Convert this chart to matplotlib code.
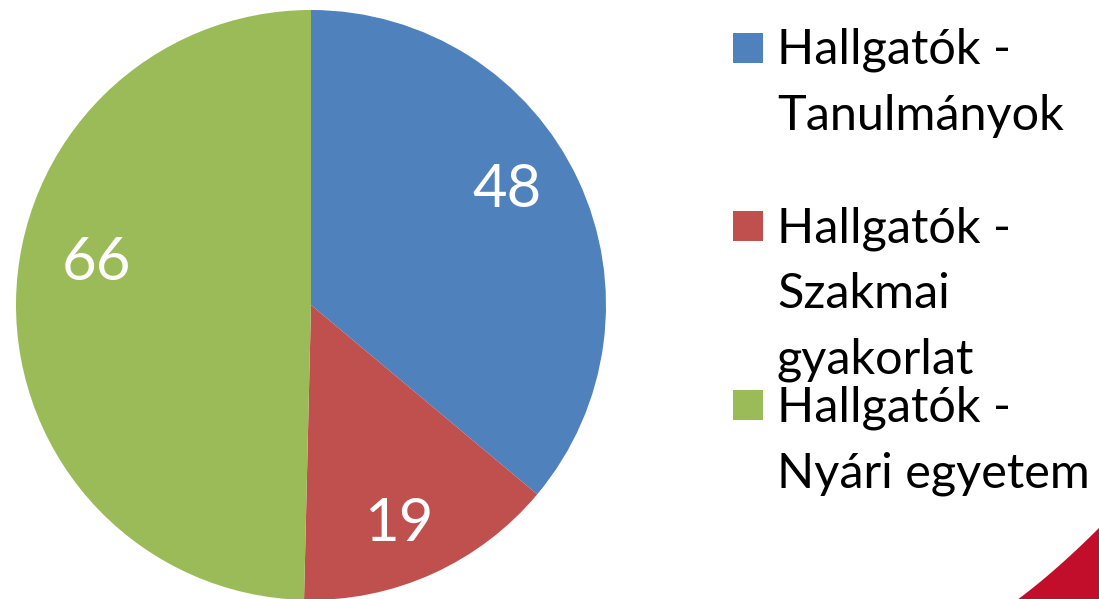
import matplotlib
matplotlib.use("Agg")
import matplotlib.pyplot as plt
from matplotlib.patches import Rectangle, Polygon
import numpy as np

# ---- data ----
categories = ["Hallgatók -\nTanulmányok",
              "Hallgatók -\nSzakmai\ngyakorlat",
              "Hallgatók -\nNyári egyetem"]
values = [48, 19, 66]
colors = ["#4F81BD", "#C0504D", "#9BBB59"]

W, H = 1099, 599
fig = plt.figure(figsize=(W / 100, H / 100), dpi=100)
fig.patch.set_facecolor("white")
plt.rcParams["font.family"] = ["Lato", "DejaVu Sans"]

def fx(x):
    return x / W

def fy(y_top):
    return (H - y_top) / H

# ---- decorative corner (slide background) ----
t = np.linspace(0, 1, 30)
p0, p1, p2 = np.array([1017, 600]), np.array([1055, 572]), np.array([1100, 527])
curve = [((1 - s) ** 2) * p0 + 2 * (1 - s) * s * p1 + (s ** 2) * p2 for s in t]
pts = [(fx(x), fy(y)) for x, y in curve] + [(fx(1100), fy(600))]
fig.patches.append(Polygon(pts, closed=True, transform=fig.transFigure,
                           facecolor="#C20E2A", edgecolor="none", zorder=0))

# ---- pie ----
cx, cy, r = 311, 305, 295
ax = fig.add_axes([fx(cx - r), fy(cy + r), 2 * r / W, 2 * r / H])
wedges, _ = ax.pie(values, colors=colors, startangle=90, counterclock=False,
                   radius=1.0, wedgeprops=dict(linewidth=0))
ax.set_xlim(-1, 1)
ax.set_ylim(-1, 1)
ax.set_aspect("equal", adjustable="box")
ax.axis("off")

label_dist = [0.77, 0.80, 0.74]
label_shift = [5.5, -2.5, -10.5]  # degrees, fine placement
for w, v, d, s in zip(wedges, values, label_dist, label_shift):
    ang = np.deg2rad((w.theta1 + w.theta2) / 2 + s)
    ax.text(d * np.cos(ang), d * np.sin(ang), str(v), color="white",
            fontsize=43, ha="center", va="center")

# ---- legend (manual, Excel-like) ----
entry_baseline = [64, 242, 421]
line_gap = 66
for lab, col, b in zip(categories, colors, entry_baseline):
    fig.patches.append(Rectangle((fx(733), fy(b - 1)), 30 / W, 30 / H,
                                 transform=fig.transFigure, facecolor=col,
                                 edgecolor="none"))
    for j, line in enumerate(lab.split("\n")):
        fig.text(fx(777), fy(b + j * line_gap), line, fontsize=35,
                 color="black", ha="left", va="baseline")

fig.savefig("out.png", dpi=100, facecolor="white")
